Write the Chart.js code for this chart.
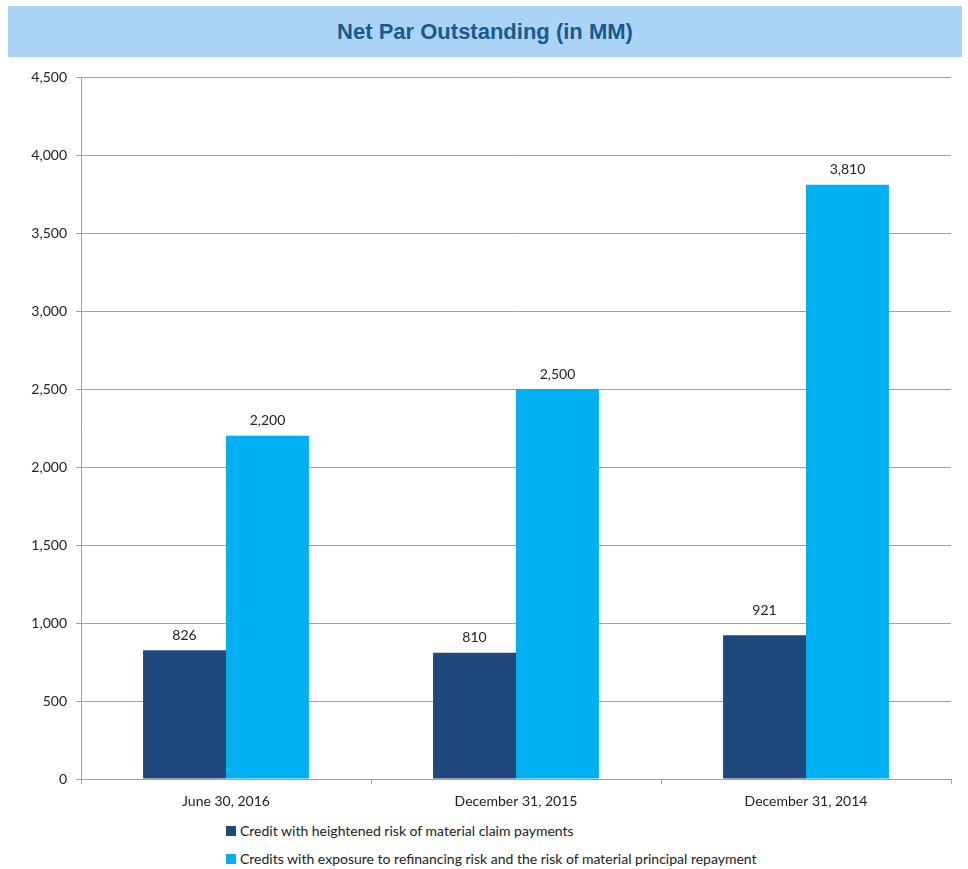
<!DOCTYPE html>
<html>
<head>
<meta charset="utf-8">
<script src="https://cdn.jsdelivr.net/npm/chart.js@4"></script>
<style>
  body { margin: 0; background: #fff; width: 968px; height: 869px; position: relative; overflow: hidden; }
  #banner { position: absolute; left: 8px; top: 6px; width: 954px; height: 51px; background: #abd3f5;
    font: bold 22px "Liberation Sans", Arial, sans-serif; color: #1b5a8c; text-align: center; line-height: 51px; }
  #wrap { position: absolute; left: 0; top: 57px; width: 968px; height: 760px; }
  #legend { position: absolute; left: 226px; top: 822px; font: 14px Lato, "Open Sans", sans-serif; color: #222; }
  #legend div { height: 28px; display: flex; align-items: flex-start; }
  #legend span.box { width: 10px; height: 10px; margin: 4px 4px 0 0; display: inline-block; }
</style>
</head>
<body>
<div id="banner">Net Par Outstanding (in MM)</div>
<div id="wrap"><canvas id="chart"></canvas></div>
<div id="legend"></div>
<script>
const categories = ['June 30, 2016', 'December 31, 2015', 'December 31, 2014'];
const seriesNames = [
  'Credit with heightened risk of material claim payments',
  'Credits with exposure to refinancing risk and the risk of material principal repayment'
];
const claimRisk = [826, 810, 921];
const refinancingRisk = [2200, 2500, 3810];
const seriesColors = ['#1f497d', '#00b0f0'];

// extra lift for value labels that sit higher than the rest
const labelLift = [[0, 0, 10], [0, 0, 0]];

const valueLabels = {
  id: 'valueLabels',
  afterDatasetsDraw(chart) {
    const ctx = chart.ctx;
    ctx.save();
    ctx.font = '14px Lato, "Open Sans", sans-serif';
    ctx.fillStyle = '#222';
    ctx.textAlign = 'center';
    ctx.textBaseline = 'middle';
    chart.data.datasets.forEach((ds, di) => {
      chart.getDatasetMeta(di).data.forEach((bar, i) => {
        ctx.fillText(ds.data[i].toLocaleString('en-US'), bar.x, bar.y - 15 - labelLift[di][i]);
      });
    });
    ctx.restore();
  }
};

const grey = '#a0a0a0';
const tickFont = { family: 'Lato, "Open Sans", sans-serif', size: 14 };

new Chart(document.getElementById('chart'), {
  type: 'bar',
  data: {
    labels: categories,
    datasets: [
      { label: seriesNames[0], data: claimRisk, backgroundColor: seriesColors[0] },
      { label: seriesNames[1], data: refinancingRisk, backgroundColor: seriesColors[1] }
    ]
  },
  options: {
    responsive: true,
    maintainAspectRatio: false,
    animation: false,
    layout: { padding: { top: 20, right: 17, left: 0, bottom: 0 } },
    datasets: { bar: { categoryPercentage: 0.572, barPercentage: 1.0 } },
    plugins: { legend: { display: false }, tooltip: { enabled: false } },
    scales: {
      x: {
        grid: { drawOnChartArea: false, drawTicks: true, tickLength: 5, color: grey, offset: true },
        border: { color: grey },
        ticks: { color: '#222', font: tickFont, padding: 9 },
        afterFit: (s) => { s.height = 38; }
      },
      y: {
        min: 0, max: 4500,
        grid: { color: grey, tickLength: 5 },
        border: { color: grey },
        ticks: { stepSize: 500, color: '#222', font: tickFont, padding: 9,
          callback: (v) => v.toLocaleString('en-US') },
        afterFit: (s) => { s.width = 81; }
      }
    }
  },
  plugins: [valueLabels]
});

// legend below the chart, one row per series
const legendEl = document.getElementById('legend');
seriesNames.forEach((name, i) => {
  const row = document.createElement('div');
  row.innerHTML = `<span class="box" style="background:${seriesColors[i]}"></span>${name}`;
  legendEl.appendChild(row);
});
</script>
</body>
</html>
